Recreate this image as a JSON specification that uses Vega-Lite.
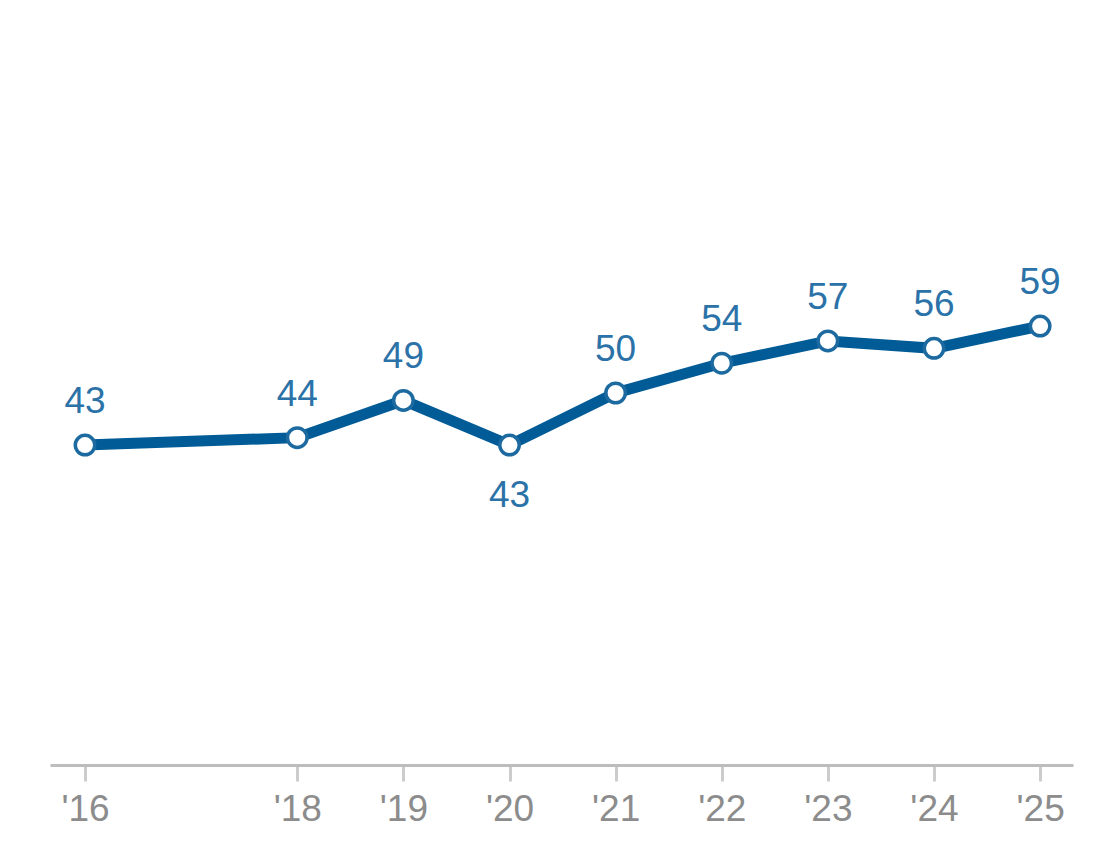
{
  "$schema": "https://vega.github.io/schema/vega-lite/v6.json",
  "width": 1023,
  "height": 744,
  "autosize": {"type": "none"},
  "padding": {"left": 50, "top": 21, "right": 34, "bottom": 83},
  "background": "white",
  "config": {
    "view": {"stroke": null},
    "font": "Liberation Sans"
  },
  "data": {
    "values": [
      {"year": 2016, "value": 43},
      {"year": 2018, "value": 44},
      {"year": 2019, "value": 49},
      {"year": 2020, "value": 43},
      {"year": 2021, "value": 50},
      {"year": 2022, "value": 54},
      {"year": 2023, "value": 57},
      {"year": 2024, "value": 56},
      {"year": 2025, "value": 59}
    ]
  },
  "encoding": {
    "x": {
      "field": "year",
      "type": "quantitative",
      "scale": {"domain": [2015.67, 2025.31], "nice": false, "zero": false},
      "axis": {
        "title": null,
        "values": [2016, 2018, 2019, 2020, 2021, 2022, 2023, 2024, 2025],
        "labelExpr": "\"'\" + substring(toString(datum.value), 2)",
        "grid": false,
        "domainColor": "#bdbdbd",
        "domainWidth": 3,
        "tickColor": "#cccccc",
        "tickWidth": 3,
        "tickSize": 16,
        "labelFontSize": 37,
        "labelColor": "#8c8c8c",
        "labelPadding": 10,
        "labelFont": "Liberation Sans"
      }
    },
    "y": {
      "field": "value",
      "type": "quantitative",
      "scale": {"domain": [0, 100], "nice": false},
      "axis": null
    }
  },
  "layer": [
    {
      "mark": {"type": "line", "color": "#005b96", "strokeWidth": 11}
    },
    {
      "mark": {"type": "point", "filled": true, "fill": "white", "stroke": "#1c6aa0", "strokeWidth": 3.5, "size": 380, "opacity": 1}
    },
    {
      "transform": [{"filter": "datum.year != 2020"}],
      "mark": {"type": "text", "fontSize": 37, "color": "#2b72a8", "dy": -43, "baseline": "middle"},
      "encoding": {"text": {"field": "value", "type": "quantitative"}}
    },
    {
      "transform": [{"filter": "datum.year == 2020"}],
      "mark": {"type": "text", "fontSize": 37, "color": "#2b72a8", "dy": 51, "baseline": "middle"},
      "encoding": {"text": {"field": "value", "type": "quantitative"}}
    }
  ]
}
